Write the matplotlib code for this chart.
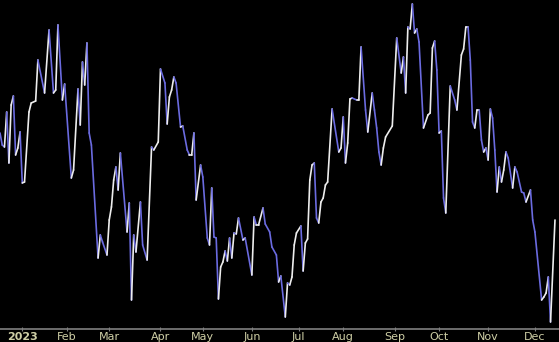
import numpy as np
import pandas as pd
import matplotlib
matplotlib.use("Agg")
import matplotlib.pyplot as plt
from matplotlib.collections import LineCollection

# trading calendar (NYSE holidays in range)
start = "2022-12-16"
holidays = ["2022-12-26", "2023-01-02", "2023-01-16", "2023-02-20", "2023-04-07",
            "2023-05-29", "2023-06-19", "2023-07-04", "2023-09-04", "2023-11-23"]

# session number (from start) and level
session = [0, 1, 2, 3, 4, 5, 6, 7, 8, 9, 10, 11, 13, 14, 16, 17, 20, 22, 24, 25,
           26, 28, 29, 32, 33, 35, 36, 37, 38, 39, 40, 41, 44, 45, 46, 48, 49, 50, 51, 52,
           53, 54, 57, 58, 59, 60, 61, 63, 64, 66, 68, 69, 71, 72, 74, 75, 76, 77, 78, 79,
           81, 82, 84, 85, 86, 87, 88, 90, 91, 93, 94, 95, 96, 97, 98, 99, 100, 101, 102, 103,
           104, 105, 106, 107, 109, 110, 113, 114, 115, 116, 118, 119, 121, 122, 124, 125, 126, 128, 129, 130,
           131, 132, 133, 135, 136, 137, 138, 139, 140, 141, 142, 143, 144, 145, 146, 147, 149, 152, 153, 154,
           155, 156, 157, 158, 160, 161, 162, 164, 165, 167, 168, 169, 170, 171, 172, 173, 176, 178, 180, 181,
           182, 183, 184, 185, 186, 187, 188, 190, 192, 193, 194, 195, 196, 197, 198, 199, 200, 202, 204, 205,
           207, 208, 209, 210, 211, 212, 213, 214, 215, 216, 217, 218, 219, 220, 221, 222, 223, 224, 225, 226,
           227, 228, 230, 231, 232, 234, 235, 236, 238, 239, 240, 243, 244, 245, 246, 247, 249]
level = [197, 185, 183, 218, 167, 225, 234, 175, 182, 198, 147, 148, 218, 227, 229, 270, 237, 300, 237, 240,
         305, 230, 246, 152, 160, 241, 205, 268, 245, 287, 197, 185, 72, 95, 88, 75, 110, 123, 150, 163,
         140, 177, 98, 127, 30, 95, 78, 128, 85, 70, 183, 180, 188, 261, 247, 206, 233, 240, 253, 247,
         203, 204, 180, 175, 175, 197, 130, 165, 153, 92, 85, 142, 93, 92, 31, 63, 68, 79, 69, 92,
         72, 97, 96, 112, 90, 92, 55, 113, 105, 105, 122, 106, 98, 83, 75, 48, 54, 13, 47, 45,
         53, 85, 97, 104, 59, 87, 91, 150, 165, 167, 112, 107, 128, 132, 145, 148, 221, 178, 182, 213,
         167, 187, 231, 232, 230, 230, 283, 220, 198, 237, 220, 202, 178, 165, 182, 193, 204, 292, 257, 273,
         237, 303, 301, 326, 297, 301, 288, 202, 215, 217, 282, 289, 260, 197, 199, 132, 117, 244, 230, 220,
         275, 281, 303, 303, 270, 208, 202, 220, 220, 190, 178, 182, 170, 221, 212, 180, 138, 163, 148, 160,
         178, 172, 142, 163, 158, 138, 137, 128, 140, 110, 98, 30, 33, 37, 53, 8, 110]

month_names = ["2023", "Feb", "Mar", "Apr", "May", "Jun", "Jul", "Aug", "Sep", "Oct", "Nov", "Dec"]

days = pd.bdate_range(start, "2023-12-29", freq="C", holidays=holidays)
months = pd.Series(np.arange(len(days)), index=days)
month_pos = months.groupby(days.to_period("M")).first()
month_pos = month_pos[month_pos.index >= pd.Period("2023-01", "M")][:12]

x = np.array(session, dtype=float)
y = np.array(level, dtype=float)
pts = np.column_stack([x, y]).reshape(-1, 1, 2)
segs = np.concatenate([pts[:-1], pts[1:]], axis=1)
up = np.diff(y) >= 0
colors = np.where(up[:, None], np.array([[0.93, 0.93, 0.93, 1]]), np.array([[0.42, 0.42, 0.88, 1]]))

fig = plt.figure(figsize=(5.59, 3.42), dpi=100, facecolor="black")
ax = fig.add_axes([0, 13 / 342, 1, 329 / 342], facecolor="black")
lc = LineCollection(segs, colors=colors, linewidths=1.2, capstyle="round", joinstyle="round")
ax.add_collection(lc)
ax.set_xlim(0, 250.8)
ax.set_ylim(1, 330)

for s in ["top", "left", "right"]:
    ax.spines[s].set_visible(False)
ax.spines["bottom"].set_color("#808080")
ax.spines["bottom"].set_linewidth(1.2)
ax.set_yticks([])
ax.set_xticks(month_pos.values)
ax.set_xticklabels(month_names, color="#cfcfa6", fontsize=8)
ax.get_xticklabels()[0].set_fontweight("bold")
ax.tick_params(axis="x", colors="#808080", direction="inout", length=3, pad=1, labelcolor="#cfcfa6")

fig.savefig("out.png", dpi=100, facecolor="black")
